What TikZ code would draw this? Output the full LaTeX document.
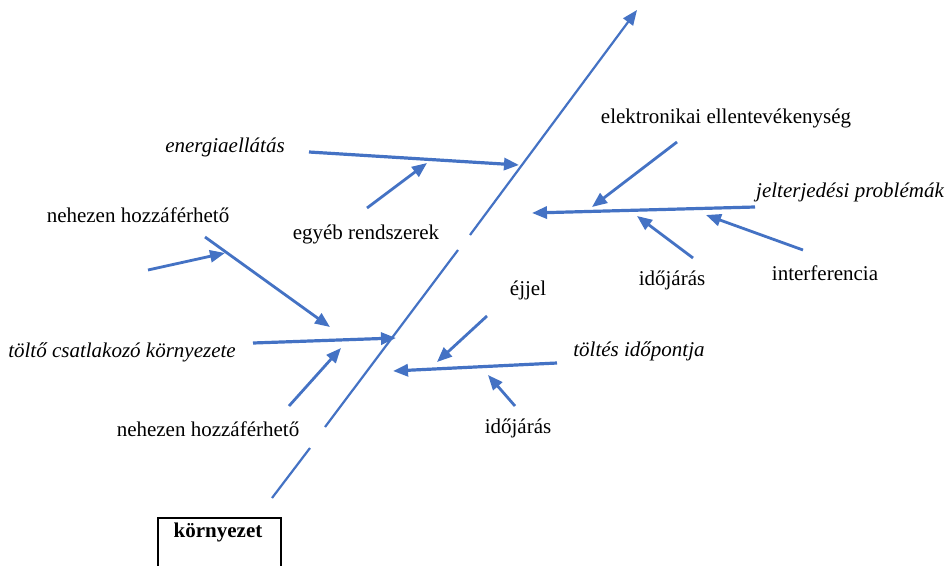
\documentclass[tikz,border=0pt]{standalone}
\usepackage{fontspec}
\setmainfont{Liberation Serif}
\usetikzlibrary{arrows.meta}
\definecolor{fb}{RGB}{68,114,196}
\begin{document}
\begin{tikzpicture}[x=1pt,y=-1pt,
  lbl/.style={anchor=base,inner sep=0pt,font=\fontsize{21}{25}\selectfont},
  ilbl/.style={anchor=base,inner sep=0pt,font=\fontsize{21}{25}\selectfont\itshape},
  blbl/.style={anchor=base,inner sep=0pt,font=\fontsize{21}{25}\selectfont\bfseries},
  spine/.style={draw=fb,line width=2.2pt},
  tip/.style={-{Triangle[length=15pt,width=12pt]}},
  rib/.style={draw=fb,line width=3.2pt,tip},
  sub/.style={draw=fb,line width=2.8pt,tip},
]
\useasboundingbox (0,0) rectangle (950,565);
\clip (0,0) rectangle (950,565);
\fill[white] (0,0) rectangle (950,565);
% spine
\coordinate (s0) at (272,498);
\coordinate (s1) at (310,448);
\coordinate (s2) at (325,427);
\coordinate (s3) at (458,250);
\coordinate (s4) at (470,235);
\coordinate (s5) at (637,10);
\draw[spine] (s0) -- (s1);
\draw[spine] (s2) -- (s3);
\draw[spine,tip] (s4) -- (s5);
% endpoints
\coordinate (e0) at (309,152); \coordinate (e1) at (519,165);
\coordinate (g0) at (367,208); \coordinate (g1) at (427,163);
\coordinate (n0) at (205,237); \coordinate (n1) at (330,327);
\coordinate (m0) at (148,270); \coordinate (m1) at (225,253);
\coordinate (t0) at (253,343); \coordinate (t1) at (396,338);
\coordinate (l0) at (289,406); \coordinate (l1) at (341,348);
\coordinate (j0) at (755,207); \coordinate (j1) at (532,213);
\coordinate (k0) at (677,142); \coordinate (k1) at (592,207);
\coordinate (i0) at (693,258); \coordinate (i1) at (637,216);
\coordinate (f0) at (803,250); \coordinate (f1) at (706,215);
\coordinate (p0) at (557,363); \coordinate (p1) at (393,371);
\coordinate (q0) at (487,316); \coordinate (q1) at (437,362);
\coordinate (r0) at (515,406); \coordinate (r1) at (488,375);
% ribs
\draw[rib] (e0) -- (e1);
\draw[sub] (g0) -- (g1);
\draw[sub] (n0) -- (n1);
\draw[sub] (m0) -- (m1);
\draw[rib] (t0) -- (t1);
\draw[sub] (l0) -- (l1);
\draw[rib] (j0) -- (j1);
\draw[sub] (k0) -- (k1);
\draw[sub] (i0) -- (i1);
\draw[sub] (f0) -- (f1);
\draw[rib] (p0) -- (p1);
\draw[sub] (q0) -- (q1);
\draw[sub] (r0) -- (r1);
% labels
\node[ilbl] (energia) at (225,152) {energiaellátás};
\node[lbl] (egyeb) at (366,239) {egyéb rendszerek};
\node[lbl] (nehez1) at (138,222) {nehezen hozzáférhető};
\node[ilbl] (tolto) at (122,357) {töltő csatlakozó környezete};
\node[lbl] (nehez2) at (208,436) {nehezen hozzáférhető};
\node[lbl] (elektr) at (726,123) {elektronikai ellentevékenység};
\node[ilbl] (jelterj) at (850,197) {jelterjedési problémák};
\node[lbl] (idojaras1) at (672,285) {időjárás};
\node[lbl] (interf) at (825,280) {interferencia};
\node[lbl] (ejjel) at (528,295) {éjjel};
\node[ilbl] (toltes) at (639,356) {töltés időpontja};
\node[lbl] (idojaras2) at (518,433) {időjárás};
\node[draw=black,line width=1.8pt,anchor=north west,minimum width=123pt,minimum height=70pt,inner sep=0pt] (box) at (157,517) {};
\node[blbl] (kornyezet) at (218,537) {környezet};
\end{tikzpicture}
\end{document}
